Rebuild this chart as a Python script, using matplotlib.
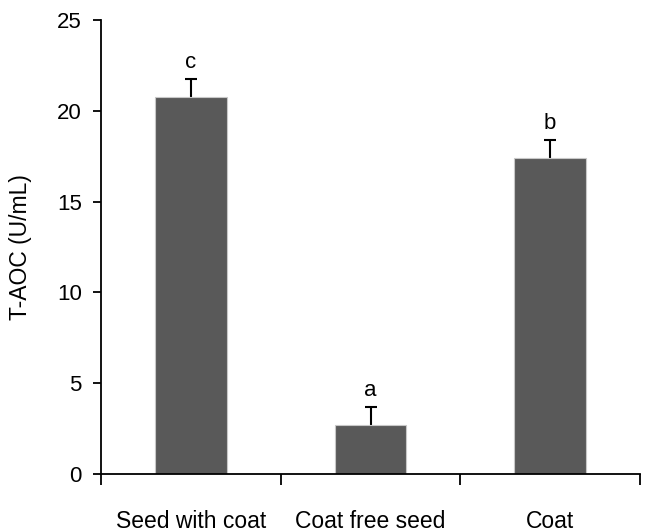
import numpy as np
import matplotlib.pyplot as plt

plt.rcParams['font.family'] = ['Liberation Sans', 'DejaVu Sans']

groups = ["Seed with coat", "Coat free seed", "Coat"]
taoc = [20.75, 2.7, 17.4]
taoc_err = [1.0, 1.0, 1.0]
letters = ["c", "a", "b"]

fig = plt.figure(figsize=(6.45, 5.32), dpi=100)
ax = fig.add_axes([0.157, 0.109, 0.835, 0.853])

x = np.arange(len(groups))
# symmetric bars drawn under the columns so only the upper half shows
ax.errorbar(x, taoc, yerr=taoc_err, fmt="none",
            ecolor="black", elinewidth=1.5, capsize=4, capthick=1.5, zorder=1)
ax.bar(x, taoc, width=0.4, color="#595959", edgecolor="#c8c8c8", linewidth=0.8, zorder=2)

for xi, v, e, lab in zip(x, taoc, taoc_err, letters):
    ax.annotate(lab, (xi, v + e), xytext=(0, 12), textcoords="offset points",
                ha="center", va="center", fontsize=16)

ax.set_xlim(-0.5, 2.5)
ax.set_ylim(0, 25)
ax.set_yticks(np.arange(0, 26, 5))
ax.set_xticks(np.arange(-0.5, 2.6, 1))
ax.set_xticklabels([])
ax.set_xticks(x, minor=True)
ax.set_xticklabels(groups, minor=True)
ax.tick_params(axis="x", which="major", direction="out", length=8, width=1.3)
ax.tick_params(axis="x", which="minor", length=0, pad=26, labelsize=16.5)
ax.tick_params(axis="y", direction="out", length=6, width=1.3, labelsize=16, pad=8)

for s in ["top", "right"]:
    ax.spines[s].set_visible(False)
for s in ["left", "bottom"]:
    ax.spines[s].set_linewidth(1.3)

ax.set_ylabel("T-AOC (U/mL)", fontsize=16.5, labelpad=18)

fig.savefig("out.png", dpi=100)
